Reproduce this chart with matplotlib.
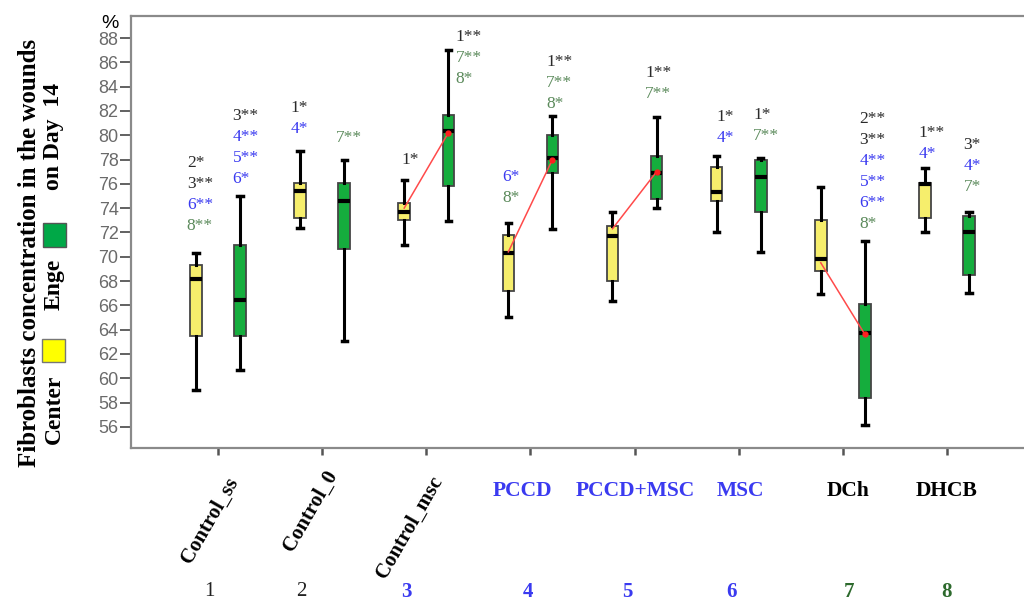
import numpy as np
import matplotlib.pyplot as plt
from matplotlib.patches import Rectangle
from matplotlib.transforms import blended_transform_factory

groups = ['Control_ss', 'Control_0', 'Control_msc', 'PCCD', 'PCCD+MSC', 'MSC', 'DCh', 'DHCB']
group_ids = ['1', '2', '3', '4', '5', '6', '7', '8']

# yellow boxes (Center)
center_whislo = [59.0, 72.4, 71.0, 65.0, 66.35, 72.0, 66.9, 72.0]
center_q1 = [63.5, 73.2, 73.0, 67.2, 68.0, 74.6, 68.85, 73.2]
center_med = [68.2, 75.4, 73.7, 70.3, 71.7, 75.3, 69.8, 75.95]
center_q3 = [69.3, 76.1, 74.45, 71.8, 72.5, 77.4, 73.0, 76.1]
center_whishi = [70.3, 78.7, 76.3, 72.8, 73.7, 78.3, 75.7, 77.3]

# green boxes (Enge)
edge_whislo = [60.7, 63.1, 72.9, 72.3, 74.0, 70.4, 56.15, 67.05]
edge_q1 = [63.5, 70.6, 75.85, 76.9, 74.75, 73.7, 58.35, 68.5]
edge_med = [66.4, 74.6, 80.35, 78.15, 76.9, 76.6, 63.7, 72.06]
edge_q3 = [71.0, 76.1, 81.7, 80.0, 78.3, 78.0, 66.1, 73.35]
edge_whishi = [75.0, 78.0, 87.0, 81.6, 81.5, 78.15, 71.3, 73.65]

# groups where center and edge means are joined
mean_groups = [3, 4, 5, 7]
center_mean = [74.0, 70.4, 72.3, 69.5]
edge_mean = [80.2, 78.0, 77.0, 63.6]

# significance vs other groups
center_notes = [['2*', '3**', '6**', '8**'], ['1*', '4*'], ['1*'], ['6*', '8*'],
                [], ['1*', '4*'], [], ['1**', '4*']]
edge_notes = [['3**', '4**', '5**', '6*'], ['7**'], ['1**', '7**', '8*'], ['1**', '7**', '8*'],
              ['1**', '7**'], ['1*', '7**'], ['2**', '3**', '4**', '5**', '6**', '8*'], ['3*', '4*', '7*']]

# where each note column starts: (x shift from group tick, y of first line)
center_note_pos = [(-0.30, 77.7), (-0.30, 82.2), (-0.24, 78.0), (-0.27, 76.6),
                   None, (-0.21, 81.5), None, (-0.27, 80.2)]
edge_note_pos = [(0.14, 81.6), (0.13, 79.8), (0.28, 88.1), (0.15, 86.0),
                 (0.10, 85.1), (0.14, 81.7), (0.16, 81.3), (0.16, 79.2)]

BLACK = '#2a2a2a'
BLUE = '#3a3af0'
GREEN = '#5b8a5b'


def note_color(txt):
    n = int(txt[0])
    if n <= 3:
        return BLACK
    if n <= 6:
        return BLUE
    return GREEN


def make_stats(lo, q1, med, q3, hi):
    return [dict(whislo=a, q1=b, med=c, q3=d, whishi=e, fliers=[])
            for a, b, c, d, e in zip(lo, q1, med, q3, hi)]


W, H = 1024, 603
fig = plt.figure(figsize=(W / 100, H / 100), dpi=100)
ax = fig.add_axes([131 / W, (H - 448) / H, 899 / W, 432 / H])

x = np.arange(1, len(groups) + 1)
off = 0.212
bw = 0.112

box_kw = dict(widths=bw, patch_artist=True, showfliers=False, manage_ticks=False,
              whiskerprops=dict(color='black', lw=2.2),
              capprops=dict(color='black', lw=2.5),
              medianprops=dict(color='black', lw=3, solid_capstyle='butt'),
              capwidths=0.05)

bc = ax.bxp(make_stats(center_whislo, center_q1, center_med, center_q3, center_whishi),
            positions=x - off, **box_kw)
be = ax.bxp(make_stats(edge_whislo, edge_q1, edge_med, edge_q3, edge_whishi),
            positions=x + off, **box_kw)
for b in bc['boxes']:
    b.set_facecolor('#f6ee6c')
    b.set_edgecolor('#454545')
    b.set_linewidth(1.3)
for b in be['boxes']:
    b.set_facecolor('#15ad3d')
    b.set_edgecolor('#454545')
    b.set_linewidth(1.3)

for g, cm, em in zip(mean_groups, center_mean, edge_mean):
    ax.plot([g - off, g + off], [cm, em], color='#ff4a4a', lw=1.1, zorder=5)
    ax.plot([g + off], [em], 'o', color='#ff2020', ms=3.5, zorder=6)

line_step = 21 / 12.15
for i in range(len(groups)):
    for notes, pos in ((center_notes[i], center_note_pos[i]), (edge_notes[i], edge_note_pos[i])):
        if not notes or pos is None:
            continue
        for k, txt in enumerate(notes):
            ax.text(x[i] + pos[0], pos[1] - k * line_step, txt, ha='left', va='center',
                    fontsize=12.5, family='Liberation Serif', color=note_color(txt))

ax.set_xlim(1 - 87 / 104.14, 1 - 87 / 104.14 + 899 / 104.14)
ax.set_ylim(88 - 410 / 12.15, 88 - 410 / 12.15 + 432 / 12.15)
ax.set_yticks(np.arange(56, 89, 2))
ax.set_xticks(x)
ax.set_xticklabels([])
ax.tick_params(axis='y', length=8, width=1.3, color='#555555', pad=1,
               labelsize=13, labelcolor='#6a6a6a')
ax.tick_params(axis='x', length=5, width=1.8, color='#555555')
for lbl in ax.get_yticklabels():
    lbl.set_family('Liberation Sans')
for side in ('left', 'top', 'bottom'):
    ax.spines[side].set_color('#8a8a8a')
    ax.spines[side].set_linewidth(1.6)
ax.spines['right'].set_visible(False)

# category labels below the axis
trans = blended_transform_factory(ax.transData, fig.transFigure)


def fy(py):
    return 1 - py / H


rot_shift = [-0.08, -0.11, -0.16]
rot_y = [520, 511, 527]
for i in range(3):
    ax.text(x[i] + rot_shift[i], fy(rot_y[i]), groups[i], transform=trans, rotation=60,
            ha='center', va='center', fontsize=15, fontweight='bold',
            family='Liberation Serif', color='black')

flat_shift = [-0.08, 0.01, 0.02, 0.05, 0.0]
flat_color = [BLUE, BLUE, BLUE, 'black', 'black']
for j, i in enumerate(range(3, 8)):
    ax.text(x[i] + flat_shift[j], fy(491), groups[i], transform=trans, ha='center', va='center',
            fontsize=15.5, fontweight='bold', family='Liberation Serif', color=flat_color[j])

id_shift = [-0.08, -0.2, -0.19, -0.02, -0.07, -0.07, 0.06, 0.0]
id_color = ['#222222', '#222222', BLUE, BLUE, BLUE, BLUE, '#2d6a2d', '#2d6a2d']
id_weight = ['normal', 'normal', 'bold', 'bold', 'bold', 'bold', 'bold', 'bold']
for i in range(len(groups)):
    ax.text(x[i] + id_shift[i], fy(592), group_ids[i], transform=trans, ha='center', va='center',
            fontsize=15, fontweight=id_weight[i], family='Liberation Serif', color=id_color[i])

# y axis title with the colour key
fig.text(110 / W, fy(23), '%', ha='center', va='center', fontsize=14,
         family='Liberation Sans', color='black')
fig.text(30 / W, fy(253), 'Fibroblasts concentration in the wounds', rotation=90,
         ha='center', va='center', fontsize=18, fontweight='bold', family='Liberation Serif')
fig.text(54 / W, fy(409), 'Center', rotation=90, ha='center', va='center',
         fontsize=17, fontweight='bold', family='Liberation Serif')
fig.text(54 / W, fy(284), 'Enge', rotation=90, ha='center', va='center',
         fontsize=17, fontweight='bold', family='Liberation Serif')
fig.text(54 / W, fy(136), 'on Day  14', rotation=90, ha='center', va='center',
         fontsize=17, fontweight='bold', family='Liberation Serif')
fig.patches.append(Rectangle((42 / W, fy(362)), 23 / W, 23 / H, transform=fig.transFigure,
                             facecolor='#ffff00', edgecolor='#777777', lw=1))
fig.patches.append(Rectangle((43 / W, fy(247)), 23 / W, 24 / H, transform=fig.transFigure,
                             facecolor='#00a847', edgecolor='#555555', lw=1))

fig.savefig('out.png', dpi=100)
